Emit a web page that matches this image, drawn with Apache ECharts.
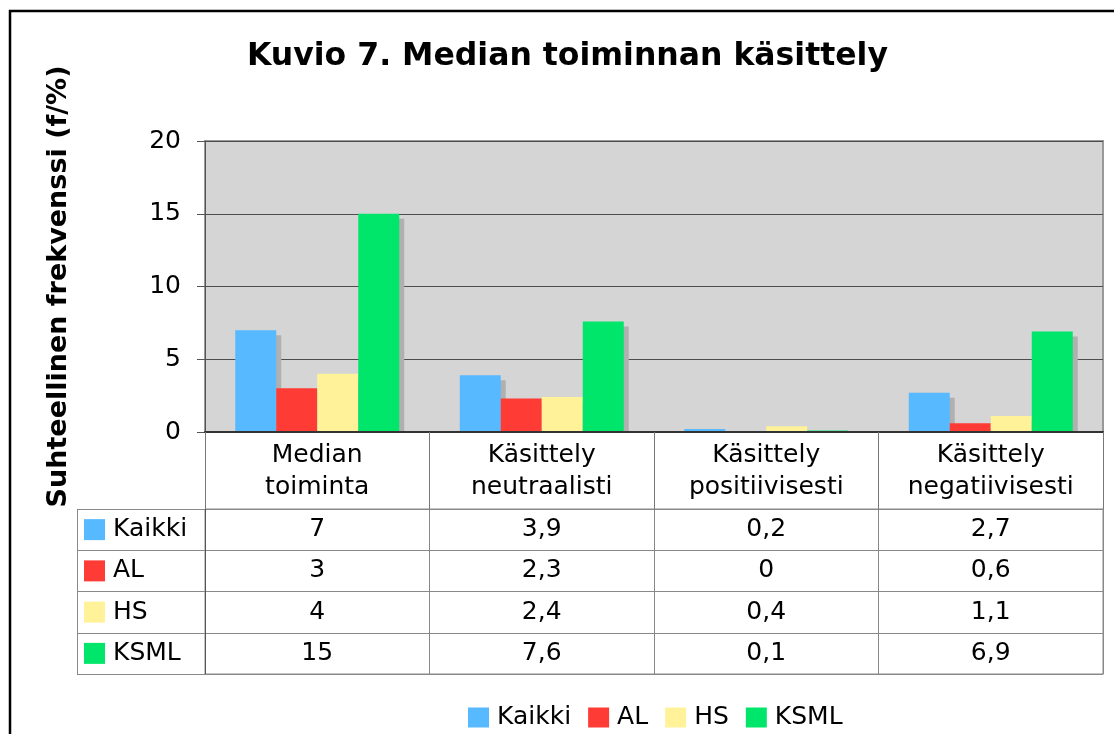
<!DOCTYPE html>
<html>
<head>
<meta charset="utf-8">
<script src="https://cdn.jsdelivr.net/npm/echarts@6/dist/echarts.min.js"></script>
<style>
html, body { margin: 0; padding: 0; background: #fff; }
#chart { width: 1114px; height: 734px; }
</style>
</head>
<body>
<div id="chart"></div>
<script>
// data
var categories = ['Median\ntoiminta', 'Käsittely\nneutraalisti', 'Käsittely\npositiivisesti', 'Käsittely\nnegatiivisesti'];
var seriesNames = ['Kaikki', 'AL', 'HS', 'KSML'];
var kaikki = [7, 3.9, 0.2, 2.7];
var al = [3, 2.3, 0, 0.6];
var hs = [4, 2.4, 0.4, 1.1];
var ksml = [15, 7.6, 0.1, 6.9];
var yTicks = [0, 5, 10, 15, 20];
var colors = ['#57b9ff', '#ff3b36', '#fff299', '#00e66b'];

var allValues = [kaikki, al, hs, ksml];

initChart();

function initChart() {
    var dom = document.getElementById('chart');
    var myChart = echarts.init(dom);

    var plotLeft = 205, plotRight = 1103, plotBottom = 432;

    // table cells: [column, row name, value]
    var tableData = [];
    for (var r = 0; r < seriesNames.length; r++) {
        for (var c = 0; c < categories.length; c++) {
            tableData.push([c, seriesNames[r], allValues[r][c]]);
        }
    }

    var rich = {
        t: { fontSize: 25, color: '#000', padding: [0, 0, 0, 8] }
    };
    for (var i = 0; i < colors.length; i++) {
        rich['s' + i] = { width: 21, height: 21, backgroundColor: colors[i] };
    }

    var barSeries = [];
    for (var k = 0; k < seriesNames.length; k++) {
        barSeries.push({
            name: seriesNames[k],
            type: 'bar',
            xAxisIndex: 0,
            yAxisIndex: 0,
            barWidth: 41,
            barGap: '0%',
            itemStyle: {
                color: colors[k],
                shadowColor: '#b0b0b0',
                shadowOffsetX: 5,
                shadowOffsetY: 5,
                shadowBlur: 0
            },
            data: allValues[k]
        });
    }

    // white strips hiding the bar shadows below the axis (keep the column lines visible)
    var graphics = [{
        type: 'rect',
        shape: { x: 10, y: 11, width: 1300, height: 900 },
        style: { fill: 'none', stroke: '#000', lineWidth: 2.5 },
        silent: true
    }, {
        type: 'line',
        shape: { x1: 77.5, y1: 509, x2: 77.5, y2: 674 },
        style: { stroke: '#888', lineWidth: 1 },
        silent: true
    }];
    var colW = (plotRight - plotLeft) / categories.length;
    for (var g = 0; g < categories.length; g++) {
        graphics.push({
            type: 'rect',
            z: 10,
            shape: { x: plotLeft + g * colW + 1.5, y: plotBottom + 1, width: colW - 3, height: 6 },
            style: { fill: '#fff' },
            silent: true
        });
    }

    var option = {
        animation: false,
        textStyle: { fontFamily: 'DejaVu Sans' },
        title: {
            text: 'Kuvio 7. Median toiminnan käsittely',
            left: 242,
            top: 36,
            textStyle: { fontSize: 31.5, fontWeight: 'bold', color: '#000' }
        },
        legend: {
            data: seriesNames,
            left: 463,
            top: 700,
            icon: 'rect',
            itemWidth: 21,
            itemHeight: 20,
            itemGap: 17,
            textStyle: { fontSize: 25, color: '#000', padding: [0, 0, 0, 3] }
        },
        grid: [{
            left: plotLeft,
            right: 1114 - plotRight,
            top: 141,
            bottom: 734 - plotBottom,
            show: true,
            backgroundColor: '#d5d5d5',
            borderColor: '#999',
            borderWidth: 2
        }, {
            left: plotLeft,
            right: 1114 - plotRight,
            top: 509,
            bottom: 60,
            show: true,
            borderColor: '#888',
            borderWidth: 1
        }],
        xAxis: [{
            type: 'category',
            gridIndex: 0,
            data: categories,
            z: 12,
            axisLine: { lineStyle: { color: '#333', width: 2 } },
            axisTick: { show: true, length: 77, interval: 0, lineStyle: { color: '#777' } },
            axisLabel: { interval: 0, fontSize: 25, lineHeight: 32, margin: 7, color: '#000' }
        }, {
            type: 'category',
            gridIndex: 1,
            data: categories,
            axisLine: { lineStyle: { color: '#888' } },
            axisTick: { show: false },
            axisLabel: { show: false },
            splitLine: { show: true, interval: 0, lineStyle: { color: '#888' } }
        }],
        yAxis: [{
            type: 'value',
            gridIndex: 0,
            min: yTicks[0],
            max: yTicks[yTicks.length - 1],
            interval: 5,
            name: 'Suhteellinen frekvenssi (f/%)',
            nameLocation: 'middle',
            nameGap: 133,
            nameTextStyle: { fontSize: 27, fontWeight: 'bold', color: '#000' },
            axisLine: { show: true, lineStyle: { color: '#555' } },
            axisTick: { show: true, length: 8, lineStyle: { color: '#555' } },
            axisLabel: { fontSize: 25, margin: 24, color: '#000' },
            splitLine: { show: true, lineStyle: { color: '#4d4d4d' } }
        }, {
            type: 'category',
            gridIndex: 1,
            inverse: true,
            data: seriesNames,
            axisLine: { show: true, lineStyle: { color: '#555' } },
            axisTick: { show: true, length: 128, interval: 0, lineStyle: { color: '#888' } },
            axisLabel: {
                align: 'left',
                margin: 121,
                formatter: function(name, idx) {
                    return '{s' + idx + '|}{t|' + name + '}';
                },
                rich: rich
            },
            splitLine: { show: true, interval: 0, lineStyle: { color: '#888' } }
        }],
        graphic: graphics,
        series: barSeries.concat([{
            type: 'scatter',
            xAxisIndex: 1,
            yAxisIndex: 1,
            symbolSize: 0,
            silent: true,
            itemStyle: { opacity: 1 },
            label: {
                show: true,
                position: 'inside',
                fontSize: 25,
                color: '#000',
                textBorderWidth: 0,
                formatter: function(p) {
                    return String(p.value[2]).replace('.', ',');
                }
            },
            data: tableData
        }])
    };

    myChart.setOption(option, true);
    window.onresize = myChart.resize;
}
</script>
</body>
</html>
